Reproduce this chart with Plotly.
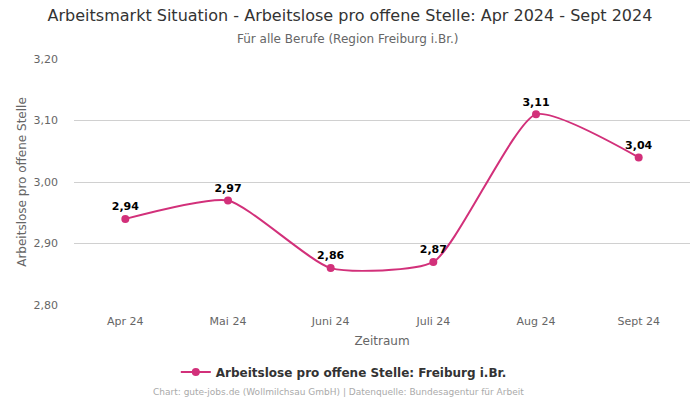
import plotly.graph_objects as go

months = ["Apr 24", "Mai 24", "Juni 24", "Juli 24", "Aug 24", "Sept 24"]
values = [2.94, 2.97, 2.86, 2.87, 3.11, 3.04]
labels = ["2,94", "2,97", "2,86", "2,87", "3,11", "3,04"]
series_name = "Arbeitslose pro offene Stelle: Freiburg i.Br."

color = "#d2307a"
font = "DejaVu Sans"

fig = go.Figure()
fig.add_trace(go.Scatter(
    x=months, y=values, mode="lines+markers+text",
    name=series_name, showlegend=True,
    line=dict(color=color, width=2, shape="spline", smoothing=0.55),
    marker=dict(color=color, size=8),
    text=labels, textposition="top center",
    textfont=dict(family=font, size=11, color="#000000", weight="bold"),
    cliponaxis=False,
))

fig.update_layout(
    width=700, height=400,
    separators=",.",
    showlegend=True,
    paper_bgcolor="white", plot_bgcolor="white",
    font=dict(family=font, color="#666666", size=11),
    margin=dict(l=74, r=10, t=59, b=95),
    title=dict(
        text="Arbeitsmarkt Situation - Arbeitslose pro offene Stelle: Apr 2024 - Sept 2024",
        x=0.5, xanchor="center", y=0.975, yanchor="top",
        font=dict(family=font, size=16, color="#333333"),
    ),
    xaxis=dict(
        title=dict(text="Zeitraum", font=dict(size=12, color="#666666"), standoff=9),
        showgrid=False, showline=False, ticks="",
        tickfont=dict(size=11, color="#666666"),
        ticklabelstandoff=8,
        range=[-0.5, 5.5],
    ),
    yaxis=dict(
        title=dict(text="Arbeitslose pro offene Stelle", font=dict(size=12, color="#666666"), standoff=4),
        range=[2.80, 3.20], dtick=0.1, tickformat=".2f",
        gridcolor="#d0d0d0", gridwidth=1, zeroline=False, showline=False,
        tickfont=dict(size=11, color="#666666"),
        ticklabelstandoff=15,
    ),
    legend=dict(
        orientation="h", x=0.438, xanchor="center", y=-0.272, yanchor="middle",
        font=dict(size=12, color="#333333", weight="bold"),
    ),
    annotations=[
        dict(
            text="Für alle Berufe (Region Freiburg i.Br.)",
            x=0.5, xref="paper", xanchor="center", y=1.081, yref="paper", yanchor="middle",
            showarrow=False, font=dict(size=12, color="#666666"),
        ),
        dict(
            text="Chart: gute-jobs.de (Wollmilchsau GmbH) | Datenquelle: Bundesagentur für Arbeit",
            x=0.43, xref="paper", xanchor="center", y=-0.354, yref="paper", yanchor="middle",
            showarrow=False, font=dict(size=9, color="#aaaaaa"),
        ),
    ],
)
fig.layout.annotations[0].update(x=0.4435)

fig.write_html("out.html", config={"displayModeBar": False},
               post_script="document.body.style.margin='0';")
